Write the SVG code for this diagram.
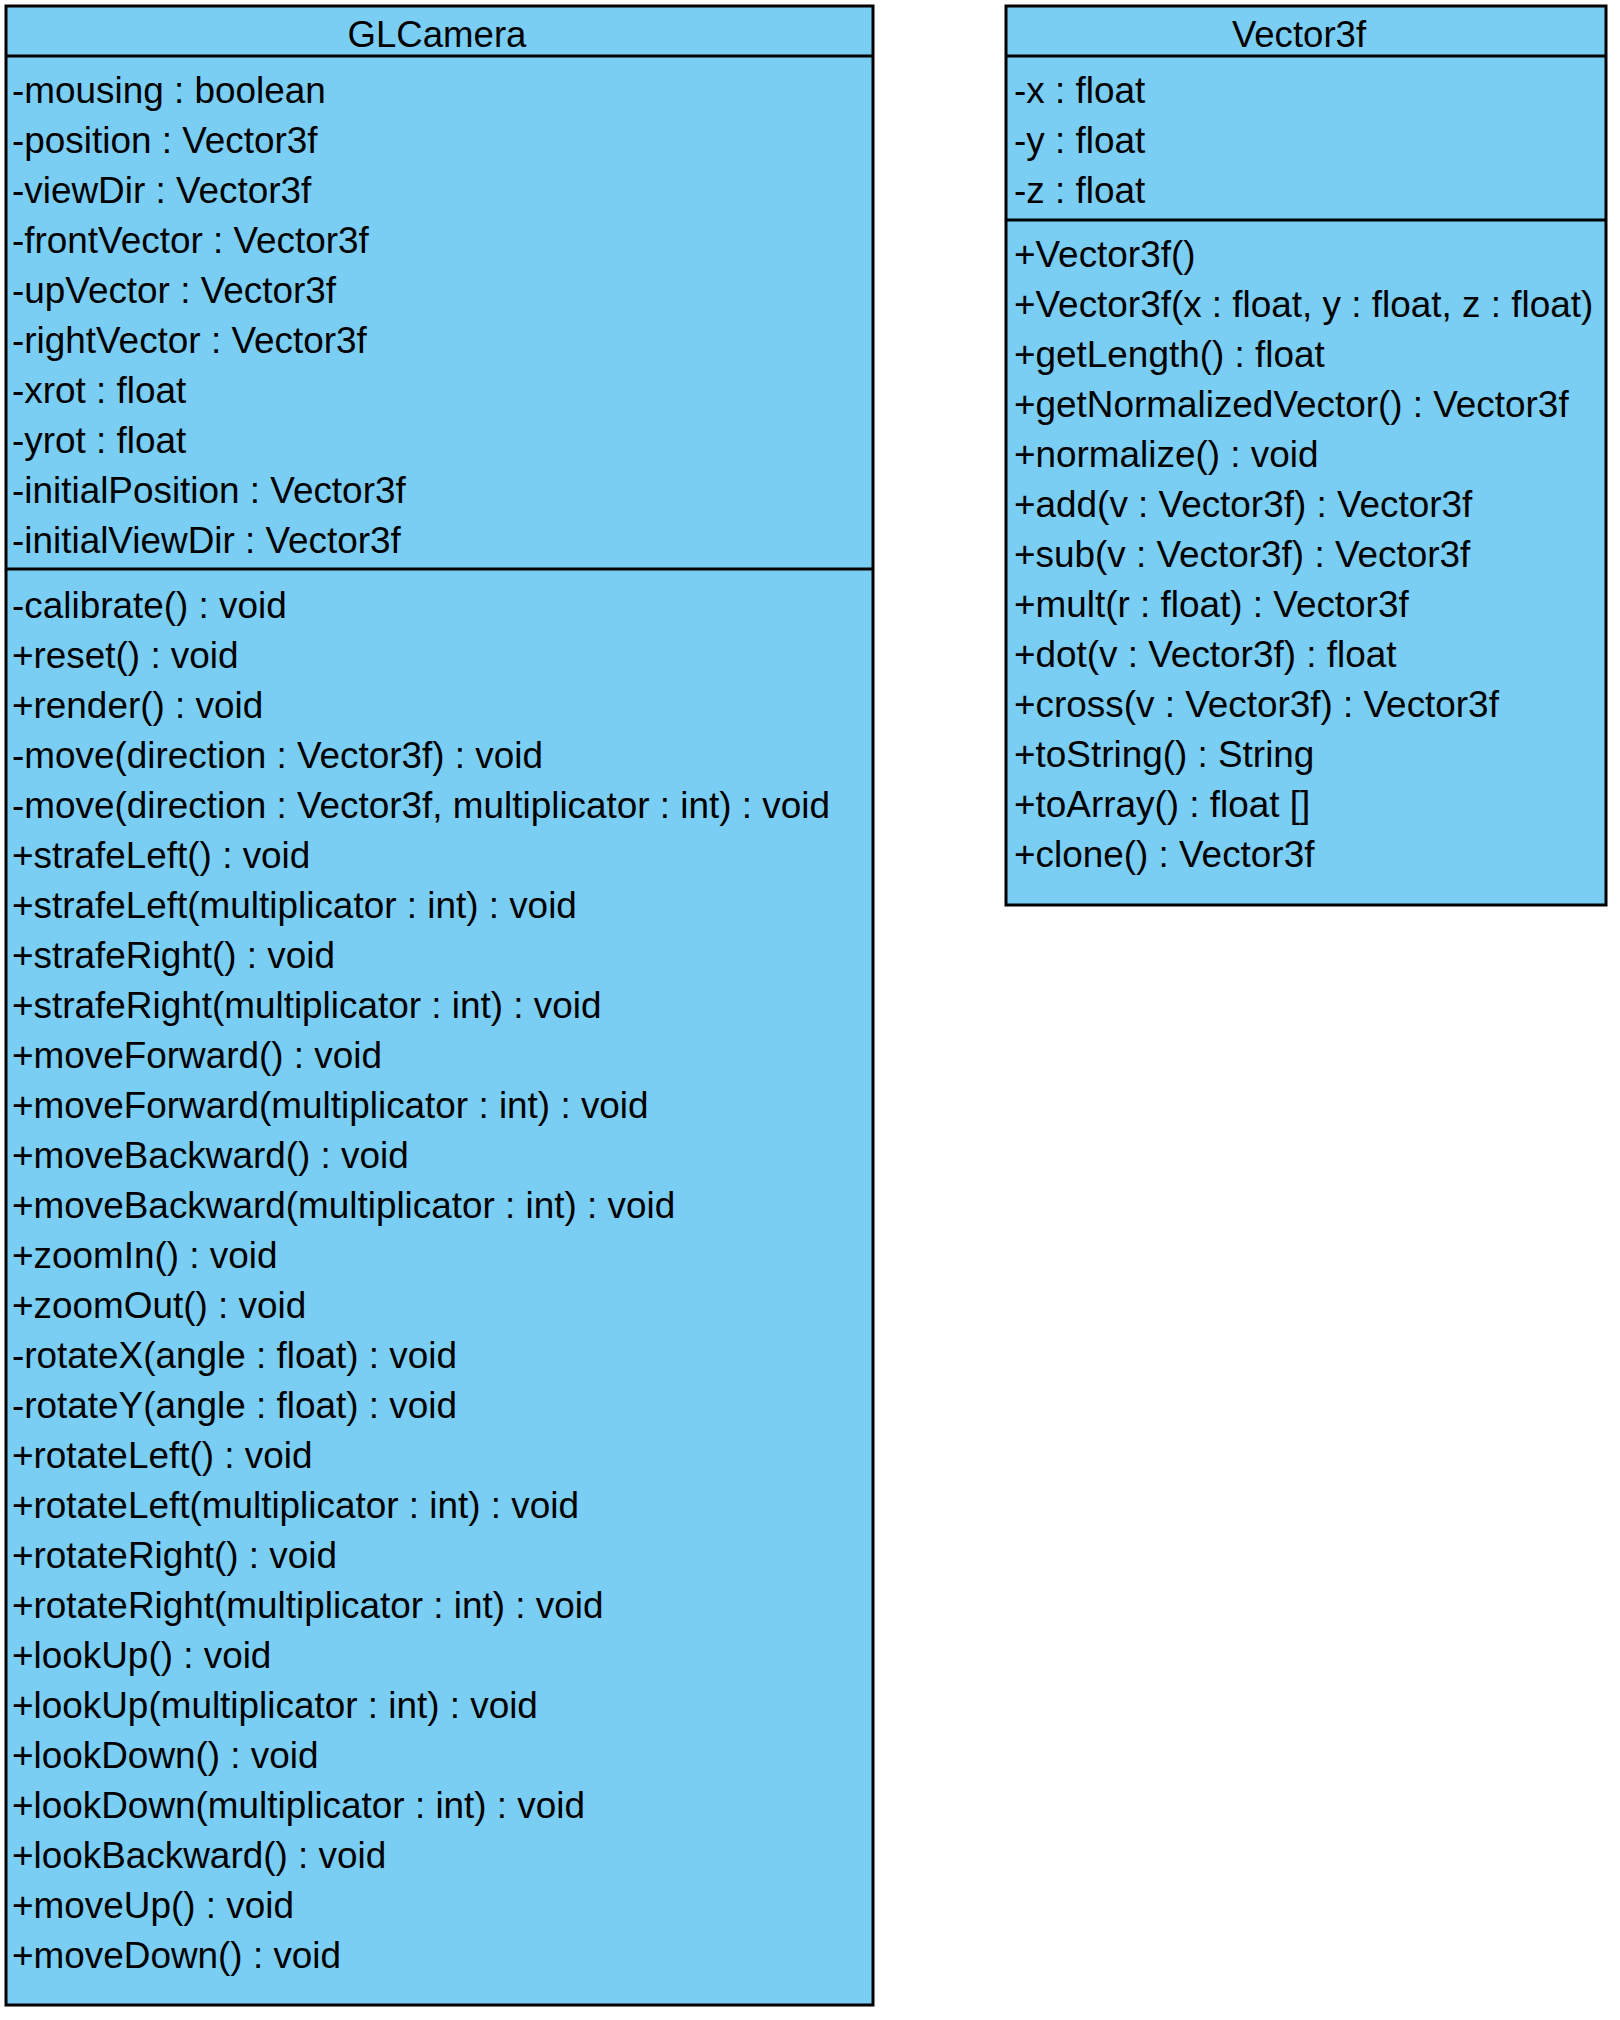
<svg xmlns="http://www.w3.org/2000/svg" width="1620" height="2020" viewBox="0 0 1620 2020">
  <style>
    .box { fill: #7acdf3; stroke: #000; stroke-width: 3; }
    .sep { stroke: #000; stroke-width: 3; }
    text { font-family: "Liberation Sans", Arial, sans-serif; font-size: 36.9px; fill: #000; }
    .title { text-anchor: middle; font-size: 36.6px; }
  </style>
  <rect width="1620" height="2020" fill="#fff"/>

  <!-- GLCamera class -->
  <g id="GLCamera">
    <rect class="box" x="6" y="6" width="867" height="1999"/>
    <line class="sep" x1="6" y1="56" x2="873" y2="56"/>
    <line class="sep" x1="6" y1="569" x2="873" y2="569"/>
    <text class="title" x="437" y="47">GLCamera</text>
    <g id="GLCamera-attributes">
      <text x="12" y="103">-mousing : boolean</text>
      <text x="12" y="153">-position : Vector3f</text>
      <text x="12" y="203">-viewDir : Vector3f</text>
      <text x="12" y="253">-frontVector : Vector3f</text>
      <text x="12" y="303">-upVector : Vector3f</text>
      <text x="12" y="353">-rightVector : Vector3f</text>
      <text x="12" y="403">-xrot : float</text>
      <text x="12" y="453">-yrot : float</text>
      <text x="12" y="503">-initialPosition : Vector3f</text>
      <text x="12" y="553">-initialViewDir : Vector3f</text>
    </g>
    <g id="GLCamera-operations">
      <text x="12" y="618">-calibrate() : void</text>
      <text x="12" y="668">+reset() : void</text>
      <text x="12" y="718">+render() : void</text>
      <text x="12" y="768">-move(direction : Vector3f) : void</text>
      <text x="12" y="818">-move(direction : Vector3f, multiplicator : int) : void</text>
      <text x="12" y="868">+strafeLeft() : void</text>
      <text x="12" y="918">+strafeLeft(multiplicator : int) : void</text>
      <text x="12" y="968">+strafeRight() : void</text>
      <text x="12" y="1018">+strafeRight(multiplicator : int) : void</text>
      <text x="12" y="1068">+moveForward() : void</text>
      <text x="12" y="1118">+moveForward(multiplicator : int) : void</text>
      <text x="12" y="1168">+moveBackward() : void</text>
      <text x="12" y="1218">+moveBackward(multiplicator : int) : void</text>
      <text x="12" y="1268">+zoomIn() : void</text>
      <text x="12" y="1318">+zoomOut() : void</text>
      <text x="12" y="1368">-rotateX(angle : float) : void</text>
      <text x="12" y="1418">-rotateY(angle : float) : void</text>
      <text x="12" y="1468">+rotateLeft() : void</text>
      <text x="12" y="1518">+rotateLeft(multiplicator : int) : void</text>
      <text x="12" y="1568">+rotateRight() : void</text>
      <text x="12" y="1618">+rotateRight(multiplicator : int) : void</text>
      <text x="12" y="1668">+lookUp() : void</text>
      <text x="12" y="1718">+lookUp(multiplicator : int) : void</text>
      <text x="12" y="1768">+lookDown() : void</text>
      <text x="12" y="1818">+lookDown(multiplicator : int) : void</text>
      <text x="12" y="1868">+lookBackward() : void</text>
      <text x="12" y="1918">+moveUp() : void</text>
      <text x="12" y="1968">+moveDown() : void</text>
    </g>
  </g>

  <!-- Vector3f class -->
  <g id="Vector3f">
    <rect class="box" x="1006" y="6" width="600" height="899"/>
    <line class="sep" x1="1006" y1="56" x2="1606" y2="56"/>
    <line class="sep" x1="1006" y1="220" x2="1606" y2="220"/>
    <text class="title" x="1299" y="47">Vector3f</text>
    <g id="Vector3f-attributes">
      <text x="1014" y="103">-x : float</text>
      <text x="1014" y="153">-y : float</text>
      <text x="1014" y="203">-z : float</text>
    </g>
    <g id="Vector3f-operations">
      <text x="1014" y="267">+Vector3f()</text>
      <text x="1014" y="317">+Vector3f(x : float, y : float, z : float)</text>
      <text x="1014" y="367">+getLength() : float</text>
      <text x="1014" y="417">+getNormalizedVector() : Vector3f</text>
      <text x="1014" y="467">+normalize() : void</text>
      <text x="1014" y="517">+add(v : Vector3f) : Vector3f</text>
      <text x="1014" y="567">+sub(v : Vector3f) : Vector3f</text>
      <text x="1014" y="617">+mult(r : float) : Vector3f</text>
      <text x="1014" y="667">+dot(v : Vector3f) : float</text>
      <text x="1014" y="717">+cross(v : Vector3f) : Vector3f</text>
      <text x="1014" y="767">+toString() : String</text>
      <text x="1014" y="817">+toArray() : float []</text>
      <text x="1014" y="867">+clone() : Vector3f</text>
    </g>
  </g>

  <!-- no associations are drawn between the classes -->
  <g id="connectors"/>
</svg>
